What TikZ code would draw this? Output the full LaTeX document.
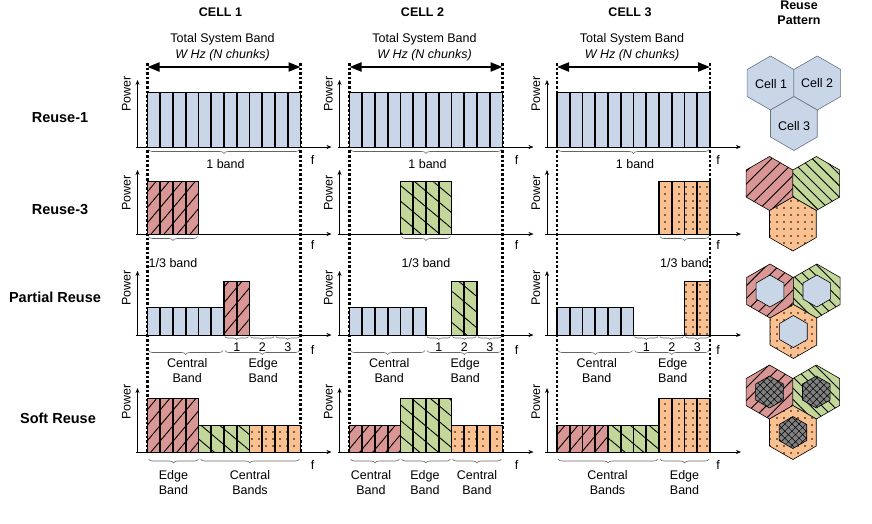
\documentclass[tikz,border=0pt]{standalone}
\usepackage{fontspec}
\setmainfont{Liberation Sans}
\usetikzlibrary{arrows.meta,decorations.pathreplacing,patterns.meta}

\definecolor{cblue}{RGB}{200,214,232}
\definecolor{cred}{RGB}{217,150,148}
\definecolor{cgreen}{RGB}{196,215,155}
\definecolor{corange}{RGB}{250,192,143}
\definecolor{hexedge}{RGB}{105,115,130}
\definecolor{cgray}{RGB}{128,128,128}

\tikzset{
  lbl/.style={font=\fontsize{12.5}{15}\selectfont, inner sep=0pt, align=center},
  itlbl/.style={lbl, font=\itshape\fontsize{12.5}{15}\selectfont},
  rowlbl/.style={font=\bfseries\fontsize{14.5}{16}\selectfont, inner sep=0pt},
  celllbl/.style={font=\bfseries\fontsize{12.5}{15}\selectfont, inner sep=0pt, align=center},
  pwr/.style={lbl, rotate=90},
  axisline/.style={line width=0.6pt, -{Stealth[length=5pt,width=4pt]}},
  sysline/.style={line width=2.1pt, dash pattern=on 2.6pt off 2pt},
  bigarrow/.style={line width=2.2pt, {Triangle[length=12pt,width=9pt]}-{Triangle[length=12pt,width=9pt]}},
  bluefill/.style={fill=cblue},
  redfill/.style={preaction={fill=cred}, pattern={Lines[angle=50,distance=10pt,line width=0.9pt]}, pattern color=black},
  greenfill/.style={preaction={fill=cgreen}, pattern={Lines[angle=-40,distance=12pt,line width=0.9pt]}, pattern color=black},
  orangefill/.style={preaction={fill=corange}, pattern={Dots[radius=0.8pt,distance=7pt]}, pattern color=black},
  chunkedge/.style={draw=black, line width=0.7pt},
  divider/.style={line width=1.6pt},
  bandbrace/.style={decorate, decoration={brace, mirror, amplitude=4pt}, draw=black!60, line width=0.6pt},
  smallbrace/.style={decorate, decoration={brace, mirror, amplitude=3pt}, draw=black!60, line width=0.6pt},
  hexblue/.style={fill=cblue, draw=hexedge, line width=0.6pt},
  hexred/.style={preaction={fill=cred}, pattern={Lines[angle=45,distance=9pt,line width=0.9pt]}, pattern color=black, draw=black, line width=0.6pt},
  hexgreen/.style={preaction={fill=cgreen}, pattern={Lines[angle=-45,distance=8pt,line width=0.9pt]}, pattern color=black, draw=black, line width=0.6pt},
  hexorange/.style={preaction={fill=corange}, pattern={Dots[radius=0.8pt,distance=7pt]}, pattern color=black, draw=black, line width=0.6pt},
  hexinner/.style={fill=cblue, draw=black, line width=0.6pt},
  hexgray/.style={preaction={fill=cgray}, pattern={Hatch[angle=45,distance=5pt,line width=0.5pt]}, pattern color=black, draw=black, line width=0.6pt},
}

\newcommand{\chunkrow}[5]{%
  \foreach \ii in {1,...,#2}{%
    \pgfmathsetmacro{\xa}{#1+(\ii-1)*\cw}%
    \pgfmathsetmacro{\xb}{#1+\ii*\cw}%
    \path[#5, chunkedge] (\xa,#3) rectangle (\xb,#4);
    \draw[divider] (\xa,#3) -- (\xa,#4) (\xb,#3) -- (\xb,#4);
  }%
}

\newcommand{\hexagon}[4]{%
  \path[#4] ({#1},{#2-#3}) -- ({#1+0.866*#3},{#2-0.5*#3}) -- ({#1+0.866*#3},{#2+0.5*#3}) -- ({#1},{#2+#3}) -- ({#1-0.866*#3},{#2+0.5*#3}) -- ({#1-0.866*#3},{#2-0.5*#3}) -- cycle;%
}

\begin{document}
\begin{tikzpicture}[x=1pt,y=-1pt]
\useasboundingbox (0,0) rectangle (872,523);
\def\cw{12.75}

% row labels
\node[rowlbl] (r1) at (60,118) {Reuse-1};
\node[rowlbl] (r3) at (60,210) {Reuse-3};
\node[rowlbl] (rp) at (55,297) {Partial Reuse};
\node[rowlbl] (rs) at (58,418) {Soft Reuse};

\node[celllbl] (rpat) at (799,12.5) {Reuse\\Pattern};

\foreach \k/\n/\X/\sty/\fx in {0/1/147.5/redfill/165, 1/2/349.5/greenfill/167, 2/3/557/orangefill/161}{
  % titles
  \node[celllbl] (cell\n) at (\X+73,12) {CELL \n};
  \node[lbl] (tsb\n) at (\X+75,39) {Total System Band};
  \node[itlbl] (wh\n) at (\X+75,55) {W Hz (N chunks)};
  % dotted band limits
  \coordinate (L\n) at (\X,63);
  \coordinate (R\n) at (\X+153,63);
  \coordinate (Lb\n) at (\X,452);
  \coordinate (Rb\n) at (\X+153,452);
  \draw[sysline] (L\n) -- (Lb\n);
  \draw[sysline] (R\n) -- (Rb\n);
  \coordinate (aL\n) at (\X,67);
  \coordinate (aR\n) at (\X+153,67);
  \draw[bigarrow] (aL\n) -- (aR\n);
  % axes
  \foreach \ay/\ty/\py/\fy in {147/80/94/160, 234/170/193/245, 335/271/288/350, 452/388/402/465}{
    \coordinate (o\n\ay) at (\X-10,\ay);
    \coordinate (yt\n\ay) at (\X-10,\ty);
    \coordinate (xs\n\ay) at (\X-12,\ay);
    \coordinate (xe\n\ay) at (\X+184,\ay);
    \draw[axisline] (o\n\ay) -- (yt\n\ay);
    \draw[axisline] (xs\n\ay) -- (xe\n\ay);
    \node[pwr] (pw\n\ay) at (\X-21,\py) {Power};
    \node[lbl] (f\n\ay) at (\X+\fx,\fy) {f};
  }
  % row 1
  \chunkrow{\X}{12}{92}{147}{bluefill}
  \draw[bandbrace] (\X+1,149.5) -- (\X+152,149.5);
  \node[lbl] (ob\n) at (\X+78,164) {1 band};
  % row 2
  \chunkrow{\X+\k*4*\cw}{4}{181}{234}{\sty}
  \draw[bandbrace] ({\X+\k*4*\cw+1},236.5) -- ({\X+\k*4*\cw+4*\cw-1},236.5);
  \node[lbl] (tb\n) at ({\X+\k*4*\cw+2*\cw},263) {1/3 band};
  % row 3
  \chunkrow{\X}{6}{307}{335}{bluefill}
  \chunkrow{\X+(6+2*\k)*\cw}{2}{281}{335}{\sty}
  \foreach \j/\m in {0/1,1/2,2/3}{
    \draw[smallbrace] ({\X+(6+2*\j)*\cw+1},336.5) -- ({\X+(8+2*\j)*\cw-1},336.5);
    \node[lbl] (sb\n\m) at ({\X+(7+2*\j)*\cw},347.5) {\m};
  }
  \draw[bandbrace] (\X+1,350.5) -- ({\X+6*\cw-1},350.5);
  \draw[bandbrace] ({\X+6*\cw+1},350.5) -- ({\X+12*\cw-1},350.5);
  \node[lbl] (pc\n) at ({\X+3*\cw+1.5},370.5) {Central\\Band};
  \node[lbl] (pe\n) at ({\X+9*\cw+1},370.5) {Edge\\Band};
  % row 4
  \foreach \j/\gs in {0/redfill,1/greenfill,2/orangefill}{
    \pgfmathsetmacro{\tp}{\j==\k ? 398 : 425}
    \chunkrow{\X+\j*4*\cw}{4}{\tp}{452}{\gs}
  }
}

% row 4 braces and labels
\draw[bandbrace] (148.5,459) -- (198.5,459);
\node[lbl] (se1) at (173.5,482.5) {Edge\\Band};
\draw[bandbrace] (200.5,459) -- (299.5,459);
\node[lbl] (sc1) at (250,482.5) {Central\\Bands};

\draw[bandbrace] (350.5,459) -- (399.5,459);
\node[lbl] (sc2a) at (371,482.5) {Central\\Band};
\draw[bandbrace] (401.5,459) -- (450.5,459);
\node[lbl] (se2) at (425,482.5) {Edge\\Band};
\draw[bandbrace] (452.5,459) -- (501.5,459);
\node[lbl] (sc2b) at (477,482.5) {Central\\Band};

\draw[bandbrace] (558,459) -- (658,459);
\node[lbl] (sc3) at (607.5,482.5) {Central\\Bands};
\draw[bandbrace] (660,459) -- (709,459);
\node[lbl] (se3) at (684.5,482.5) {Edge\\Band};

% reuse pattern hexagons
% row 1
\hexagon{770.5}{83}{27}{hexblue}
\hexagon{817.3}{83}{27}{hexblue}
\hexagon{793.9}{123.5}{27}{hexblue}
\node[lbl] (hc1) at (771,84) {Cell 1};
\node[lbl] (hc2) at (817,83) {Cell 2};
\node[lbl] (hc3) at (794,126) {Cell 3};
% row 2
\hexagon{769.5}{183.5}{27}{hexred}
\hexagon{816.3}{183.5}{27}{hexgreen}
\hexagon{792.9}{224}{27}{hexorange}
% row 3
\hexagon{770}{291}{27}{hexred}
\hexagon{816.8}{291}{27}{hexgreen}
\hexagon{793.4}{331.5}{27}{hexorange}
\hexagon{770}{291}{16}{hexinner}
\hexagon{816.8}{291}{16}{hexinner}
\hexagon{793.4}{331.5}{16}{hexinner}
% row 4
\hexagon{769.5}{392}{27}{hexred}
\hexagon{816.3}{392}{27}{hexgreen}
\hexagon{792.9}{432.5}{27}{hexorange}
\hexagon{769.5}{392}{16}{hexgray}
\hexagon{816.3}{392}{16}{hexgray}
\hexagon{792.9}{432.5}{16}{hexgray}
\end{tikzpicture}
\end{document}
